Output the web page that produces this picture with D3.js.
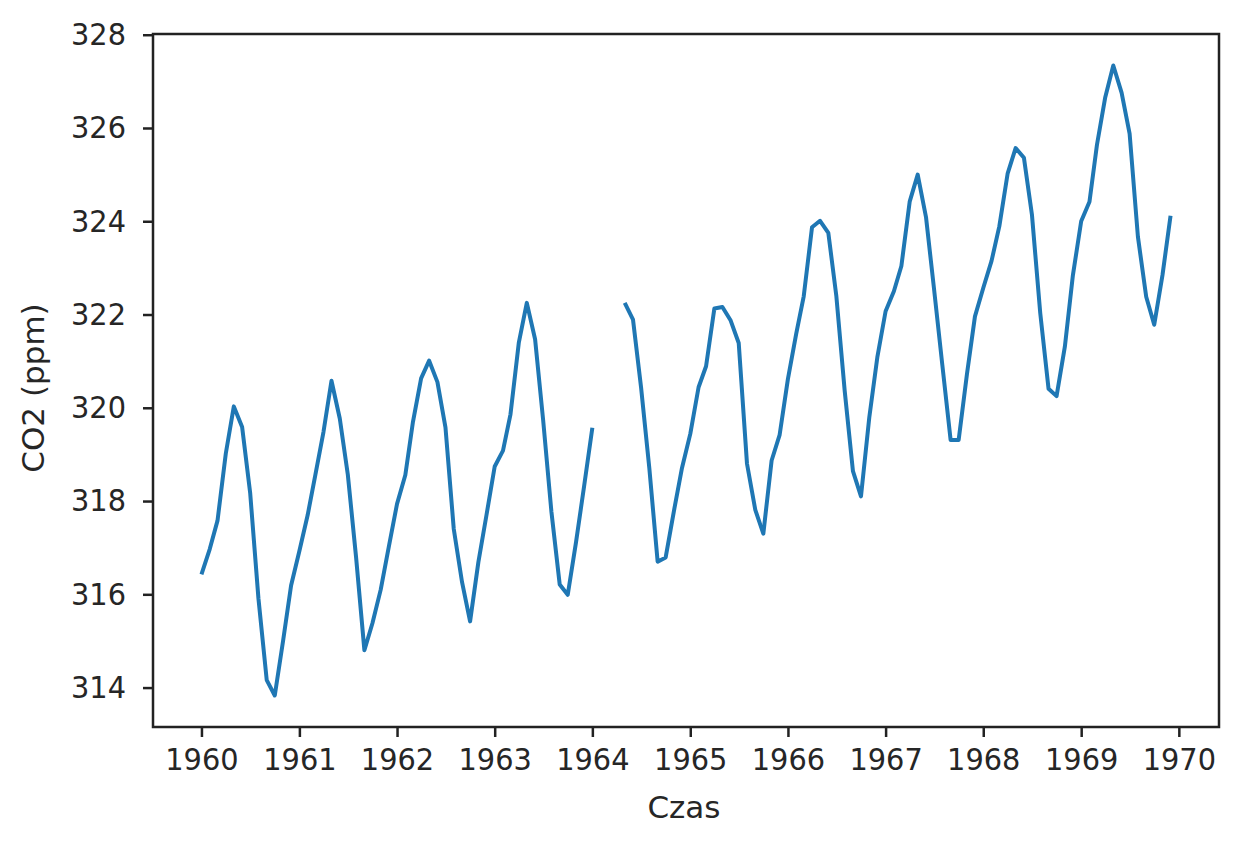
<!DOCTYPE html>
<html>
<head>
<meta charset="utf-8">
<script src="https://d3js.org/d3.v7.min.js"></script>
<style>
body { margin: 0; background: #fff; }
text { font-family: "DejaVu Sans", sans-serif; fill: #262626; }
.line { fill: none; stroke: #1f77b4; stroke-width: 4px; stroke-linejoin: round; }
</style>
</head>
<body>
<svg width="1249" height="848"></svg>
<script>
// monthly mean CO2 at Mauna Loa, 1960-1969 (null = missing month)
const years = [1960, 1961, 1962, 1963, 1964, 1965, 1966, 1967, 1968, 1969]
const co2_1960 = [316.43, 316.97, 317.58, 319.02, 320.03, 319.59, 318.18, 315.91, 314.16, 313.83, 315.00, 316.19]
const co2_1961 = [316.93, 317.70, 318.54, 319.48, 320.58, 319.77, 318.57, 316.79, 314.80, 315.38, 316.10, 317.01]
const co2_1962 = [317.94, 318.56, 319.68, 320.63, 321.01, 320.55, 319.58, 317.40, 316.26, 315.42, 316.69, 317.69]
const co2_1963 = [318.74, 319.08, 319.86, 321.39, 322.25, 321.47, 319.74, 317.77, 316.21, 315.99, 317.12, 318.31]
const co2_1964 = [319.57, null, null, null, 322.25, 321.89, 320.44, 318.70, 316.70, 316.79, 317.79, 318.71]
const co2_1965 = [319.44, 320.44, 320.89, 322.13, 322.16, 321.87, 321.39, 318.80, 317.81, 317.30, 318.87, 319.42]
const co2_1966 = [320.62, 321.59, 322.39, 323.87, 324.01, 323.75, 322.39, 320.37, 318.64, 318.10, 319.79, 321.08]
const co2_1967 = [322.07, 322.50, 323.04, 324.42, 325.00, 324.09, 322.55, 320.92, 319.31, 319.31, 320.72, 321.96]
const co2_1968 = [322.57, 323.15, 323.89, 325.02, 325.57, 325.36, 324.14, 322.03, 320.41, 320.25, 321.31, 322.84]
const co2_1969 = [324.00, 324.42, 325.64, 326.66, 327.34, 326.76, 325.88, 323.67, 322.38, 321.78, 322.85, 324.12]
const yTicks = [314, 316, 318, 320, 322, 324, 326, 328]
const xLabel = "Czas"
const yLabel = "CO2 (ppm)"

const series = [co2_1960, co2_1961, co2_1962, co2_1963, co2_1964,
                co2_1965, co2_1966, co2_1967, co2_1968, co2_1969]
let data = []
series.forEach(function (vals, i) {
    vals.forEach(function (v, m) {
        data.push({date: new Date(years[i], m, 1), value: v})
    })
})

const svg = d3.select("svg")
const plotL = 153, plotR = 1219, plotT = 34, plotB = 727
const fs = 31, sx = 0.93   // tick digits look slightly narrow in the source

// matplotlib-like 5% margins
let tExt = d3.extent(data, d => d.date.getTime())
let tPad = (tExt[1] - tExt[0]) * 0.05
let known = data.filter(d => d.value !== null).map(d => d.value)
let vExt = d3.extent(known)
let vPad = (vExt[1] - vExt[0]) * 0.05

let x = d3.scaleTime()
    .domain([new Date(tExt[0] - tPad), new Date(tExt[1] + tPad)])
    .range([plotL, plotR])
let y = d3.scaleLinear()
    .domain([vExt[0] - vPad, vExt[1] + vPad])
    .range([plotB, plotT])

let line = d3.line()
    .defined(d => d.value !== null)
    .x(d => x(d.date))
    .y(d => y(d.value))

svg.append("path")
    .datum(data)
    .attr("class", "line")
    .attr("d", line)

// frame
svg.append("rect")
    .attr("x", plotL).attr("y", plotT)
    .attr("width", plotR - plotL).attr("height", plotB - plotT)
    .attr("fill", "none").attr("stroke", "#222").attr("stroke-width", 2.5)

let xAxis = d3.axisBottom(x)
    .ticks(d3.timeYear.every(1))
    .tickFormat(d3.timeFormat("%Y"))
    .tickSize(10).tickPadding(11)
let yAxis = d3.axisLeft(y)
    .tickValues(yTicks)
    .tickFormat(d3.format("d"))
    .tickSize(10).tickPadding(17)

let gx = svg.append("g").attr("transform", "translate(0," + plotB + ")").call(xAxis)
let gy = svg.append("g").attr("transform", "translate(" + plotL + ",0)").call(yAxis)

for (let g of [gx, gy]) {
    g.select(".domain").remove()
    g.selectAll(".tick line").attr("stroke", "#222").attr("stroke-width", 2.5)
    g.selectAll(".tick text").attr("font-size", fs + "px").attr("fill", "#262626")
        .style("font-family", "'DejaVu Sans', sans-serif")
        .attr("transform", "scale(" + sx + ",1)")
}
gy.selectAll(".tick text").attr("x", -27 / sx)

svg.append("text")
    .attr("x", 684)
    .attr("y", 818)
    .attr("text-anchor", "middle")
    .attr("font-size", fs + "px")
    .text(xLabel)

svg.append("text")
    .attr("transform", "translate(44," + 388 + ") rotate(-90)")
    .attr("text-anchor", "middle")
    .attr("font-size", fs + "px")
    .text(yLabel)
</script>
</body>
</html>
